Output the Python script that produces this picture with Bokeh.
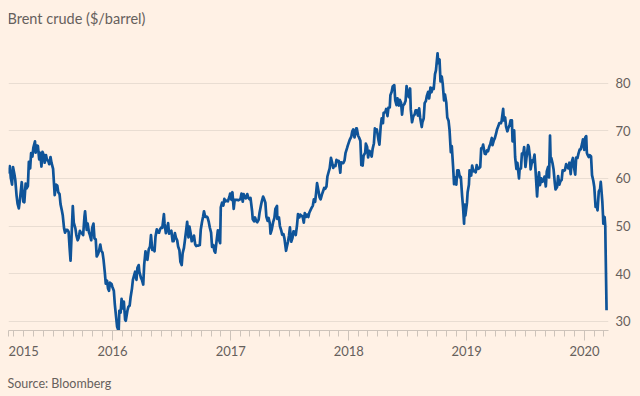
import datetime as dt
import pandas as pd
from bokeh.plotting import figure
from bokeh.models import (Range1d, FixedTicker, DatetimeTickFormatter, DatetimeAxis, Title, Label,
                          ColumnDataSource)
from bokeh.embed import file_html
from bokeh.resources import INLINE

# ---------------- data ----------------
title_text = "Brent crude ($/barrel)"
source_text = "Source: Bloomberg"
year_label_dates = ["2015-04-01", "2016-01-01", "2017-01-01", "2018-01-01", "2019-01-01", "2020-01-01"]
year_ticks = ["2016-01-01", "2017-01-01", "2018-01-01", "2019-01-01", "2020-01-01"]
y_ticks = [30, 40, 50, 60, 70, 80]

brent_2015 = [("02-13", 61.0), ("02-17", 62.6), ("02-20", 60.2), ("02-24", 58.7), ("02-27", 62.4),
              ("03-03", 61.0), ("03-06", 59.7), ("03-10", 56.4), ("03-13", 54.7), ("03-17", 53.7),
              ("03-20", 55.3), ("03-26", 59.2), ("03-31", 55.1), ("04-03", 55.0), ("04-07", 58.9),
              ("04-10", 57.9), ("04-14", 58.4), ("04-17", 63.5), ("04-21", 62.1), ("04-24", 65.3),
              ("04-28", 64.6), ("05-01", 66.5), ("05-06", 67.8), ("05-08", 65.4), ("05-12", 66.9),
              ("05-15", 66.8), ("05-19", 64.0), ("05-22", 65.4), ("05-26", 62.5), ("05-29", 65.6),
              ("06-02", 64.9), ("06-05", 63.3), ("06-09", 64.9), ("06-12", 63.9), ("06-16", 63.7),
              ("06-19", 63.0), ("06-23", 64.5), ("06-26", 63.3), ("07-01", 62.0), ("07-06", 56.5),
              ("07-10", 58.7), ("07-14", 58.5), ("07-17", 57.1), ("07-21", 56.7), ("07-24", 54.6),
              ("07-28", 53.3), ("07-31", 52.2), ("08-04", 49.5), ("08-07", 48.6), ("08-11", 49.2),
              ("08-14", 49.2), ("08-18", 48.8), ("08-21", 45.5), ("08-24", 42.7), ("08-27", 47.6),
              ("08-31", 54.2), ("09-03", 50.7), ("09-08", 49.5), ("09-11", 48.1), ("09-15", 47.0),
              ("09-18", 47.5), ("09-22", 49.0), ("09-25", 48.6), ("09-29", 48.4), ("10-02", 48.1),
              ("10-06", 51.9), ("10-08", 53.1), ("10-13", 49.2), ("10-16", 50.5), ("10-20", 48.7),
              ("10-23", 48.1), ("10-27", 47.0), ("10-30", 49.6), ("11-03", 50.5), ("11-06", 47.4),
              ("11-10", 47.2), ("11-13", 43.6), ("11-17", 44.1), ("11-20", 44.7), ("11-24", 46.1),
              ("11-27", 44.9), ("12-01", 44.4), ("12-04", 43.0), ("12-08", 40.3), ("12-11", 37.9),
              ("12-15", 38.5), ("12-18", 36.9), ("12-21", 36.4), ("12-24", 38.1), ("12-29", 37.8),
              ("12-31", 37.3)]

brent_2016 = [("01-05", 36.4), ("01-08", 33.6), ("01-12", 30.9), ("01-15", 28.9), ("01-20", 27.9),
              ("01-22", 32.2), ("01-26", 31.8), ("01-29", 34.7), ("02-02", 32.7), ("02-05", 34.1),
              ("02-09", 30.3), ("02-11", 30.1), ("02-16", 32.2), ("02-19", 33.0), ("02-23", 33.3),
              ("02-26", 35.1), ("03-01", 36.8), ("03-04", 38.7), ("03-08", 39.7), ("03-11", 40.4),
              ("03-15", 38.7), ("03-18", 41.2), ("03-22", 41.8), ("03-24", 40.4), ("03-29", 39.1),
              ("04-01", 38.7), ("04-05", 37.7), ("04-08", 41.9), ("04-12", 44.7), ("04-15", 43.1),
              ("04-18", 42.9), ("04-22", 45.1), ("04-26", 45.7), ("04-29", 48.1), ("05-03", 45.0),
              ("05-06", 45.4), ("05-10", 44.7), ("05-13", 47.8), ("05-17", 49.3), ("05-20", 48.7),
              ("05-24", 48.6), ("05-27", 49.3), ("05-31", 49.7), ("06-03", 49.6), ("06-08", 52.5),
              ("06-10", 50.5), ("06-14", 48.5), ("06-17", 49.2), ("06-21", 50.6), ("06-24", 48.4),
              ("06-28", 48.6), ("07-01", 49.0), ("07-05", 46.8), ("07-08", 46.8), ("07-12", 48.5),
              ("07-15", 47.6), ("07-19", 47.0), ("07-22", 45.7), ("07-26", 44.9), ("07-29", 42.5),
              ("08-02", 41.8), ("08-05", 44.3), ("08-09", 45.4), ("08-12", 47.0), ("08-16", 49.2),
              ("08-19", 50.9), ("08-23", 47.6), ("08-26", 49.9), ("08-30", 48.4), ("09-02", 46.8),
              ("09-06", 47.3), ("09-09", 48.0), ("09-13", 46.1), ("09-16", 45.8), ("09-20", 45.9),
              ("09-23", 45.9), ("09-27", 46.0), ("09-30", 49.2), ("10-04", 50.9), ("10-07", 51.9),
              ("10-10", 53.1), ("10-14", 51.9), ("10-18", 52.0), ("10-21", 51.8), ("10-25", 50.8),
              ("10-28", 49.7), ("11-01", 48.6), ("11-04", 45.6), ("11-08", 46.0), ("11-11", 44.8),
              ("11-14", 44.4), ("11-18", 46.9), ("11-22", 49.1), ("11-25", 47.2), ("11-29", 46.4),
              ("12-01", 53.9), ("12-05", 54.9), ("12-09", 54.3), ("12-12", 55.7), ("12-16", 55.2),
              ("12-21", 55.4), ("12-23", 55.2), ("12-28", 56.2), ("12-30", 56.8)]

brent_2017 = [("01-03", 55.5), ("01-06", 57.1), ("01-10", 53.6), ("01-13", 55.5), ("01-17", 55.5),
              ("01-20", 55.5), ("01-24", 55.4), ("01-27", 55.5), ("01-31", 55.7), ("02-03", 56.8),
              ("02-07", 55.1), ("02-10", 56.7), ("02-14", 56.0), ("02-17", 55.8), ("02-21", 56.7),
              ("02-24", 56.0), ("02-28", 55.6), ("03-03", 55.9), ("03-08", 53.1), ("03-10", 51.4),
              ("03-14", 51.0), ("03-17", 51.8), ("03-21", 51.0), ("03-24", 50.8), ("03-28", 51.3),
              ("03-31", 52.8), ("04-04", 54.2), ("04-07", 55.2), ("04-11", 56.2), ("04-13", 55.9),
              ("04-18", 54.9), ("04-21", 52.0), ("04-25", 51.1), ("04-28", 51.7), ("05-02", 50.5),
              ("05-04", 48.4), ("05-08", 49.3), ("05-12", 50.8), ("05-16", 51.7), ("05-19", 53.6),
              ("05-24", 54.2), ("05-25", 51.5), ("05-30", 51.8), ("06-02", 50.0), ("06-06", 49.1),
              ("06-09", 48.2), ("06-13", 48.3), ("06-16", 47.4), ("06-21", 44.8), ("06-23", 45.5),
              ("06-27", 46.7), ("06-30", 47.9), ("07-03", 49.7), ("07-07", 46.7), ("07-11", 47.5),
              ("07-14", 48.9), ("07-18", 48.8), ("07-21", 48.1), ("07-25", 50.2), ("07-28", 52.5),
              ("08-01", 51.8), ("08-04", 52.4), ("08-08", 52.1), ("08-11", 52.1), ("08-15", 50.7),
              ("08-18", 52.7), ("08-22", 51.9), ("08-25", 52.4), ("08-29", 51.9), ("09-01", 52.8),
              ("09-05", 53.4), ("09-08", 53.8), ("09-12", 54.3), ("09-15", 55.6), ("09-19", 55.1),
              ("09-22", 56.9), ("09-25", 59.0), ("09-29", 57.5), ("10-03", 56.0), ("10-06", 55.6),
              ("10-10", 56.6), ("10-13", 57.2), ("10-17", 58.0), ("10-20", 57.8), ("10-24", 58.3),
              ("10-27", 60.4), ("10-31", 61.4), ("11-03", 62.1), ("11-07", 64.3), ("11-10", 63.5),
              ("11-14", 62.2), ("11-17", 62.7), ("11-21", 62.6), ("11-24", 63.9), ("11-28", 63.6),
              ("12-01", 63.7), ("12-06", 61.2), ("12-08", 63.4), ("12-12", 63.3), ("12-15", 63.2),
              ("12-19", 63.8), ("12-22", 65.3), ("12-27", 66.4), ("12-29", 66.9)]

brent_2018 = [("01-04", 68.1), ("01-09", 68.8), ("01-12", 69.9), ("01-15", 70.3), ("01-19", 68.6),
              ("01-24", 70.5), ("01-26", 70.5), ("01-30", 69.0), ("02-02", 68.6), ("02-06", 67.9),
              ("02-09", 62.8), ("02-13", 62.7), ("02-16", 64.8), ("02-21", 65.4), ("02-23", 67.3),
              ("02-27", 66.6), ("03-02", 64.4), ("03-06", 65.8), ("03-09", 65.5), ("03-13", 64.6),
              ("03-16", 66.2), ("03-20", 67.4), ("03-23", 70.5), ("03-27", 70.1), ("03-29", 70.3),
              ("04-03", 68.1), ("04-06", 67.1), ("04-10", 71.0), ("04-13", 72.6), ("04-17", 71.6),
              ("04-19", 73.8), ("04-24", 73.9), ("04-27", 74.6), ("05-01", 73.1), ("05-04", 74.9),
              ("05-08", 74.9), ("05-10", 77.5), ("05-14", 78.2), ("05-17", 79.3), ("05-22", 79.6),
              ("05-25", 76.4), ("05-29", 75.4), ("06-01", 76.8), ("06-05", 75.3), ("06-08", 76.5),
              ("06-12", 75.9), ("06-15", 73.4), ("06-18", 75.3), ("06-22", 75.6), ("06-26", 76.3),
              ("06-29", 79.4), ("07-03", 77.8), ("07-06", 77.1), ("07-10", 78.9), ("07-12", 74.5),
              ("07-16", 71.8), ("07-20", 73.1), ("07-24", 73.4), ("07-27", 74.3), ("07-31", 74.3),
              ("08-03", 73.2), ("08-07", 74.7), ("08-10", 72.8), ("08-15", 70.8), ("08-17", 71.8),
              ("08-21", 72.6), ("08-24", 75.8), ("08-28", 76.3), ("08-31", 77.4), ("09-04", 78.2),
              ("09-07", 76.8), ("09-11", 79.1), ("09-14", 78.1), ("09-18", 79.0), ("09-21", 78.8),
              ("09-25", 81.9), ("09-28", 82.7), ("10-03", 86.3), ("10-05", 84.2), ("10-09", 85.0),
              ("10-12", 80.4), ("10-16", 81.4), ("10-19", 79.8), ("10-23", 76.4), ("10-26", 77.6),
              ("10-30", 75.9), ("11-02", 72.8), ("11-06", 72.1), ("11-09", 70.2), ("11-13", 65.5),
              ("11-16", 66.8), ("11-20", 62.5), ("11-23", 58.8), ("11-27", 60.2), ("11-30", 58.7),
              ("12-03", 61.7), ("12-07", 61.7), ("12-11", 60.2), ("12-14", 60.3), ("12-18", 56.3),
              ("12-21", 53.8), ("12-24", 50.5), ("12-26", 54.5), ("12-28", 52.2)]

brent_2019 = [("01-02", 54.9), ("01-04", 57.1), ("01-08", 58.7), ("01-10", 61.7), ("01-15", 60.6),
              ("01-18", 62.7), ("01-22", 61.5), ("01-25", 61.6), ("01-29", 61.3), ("02-01", 62.8),
              ("02-05", 62.0), ("02-08", 62.1), ("02-12", 62.4), ("02-15", 66.3), ("02-19", 66.5),
              ("02-21", 67.1), ("02-26", 65.2), ("03-01", 65.1), ("03-05", 65.9), ("03-08", 65.7),
              ("03-12", 66.7), ("03-15", 67.2), ("03-20", 68.5), ("03-22", 67.0), ("03-26", 68.0),
              ("03-29", 68.4), ("04-02", 69.4), ("04-05", 70.3), ("04-09", 71.0), ("04-12", 71.6),
              ("04-17", 71.6), ("04-19", 72.0), ("04-24", 74.6), ("04-26", 72.2), ("04-30", 72.8),
              ("05-03", 70.9), ("05-07", 69.9), ("05-10", 70.6), ("05-14", 71.2), ("05-17", 72.2),
              ("05-21", 72.2), ("05-23", 67.8), ("05-28", 70.1), ("05-31", 64.5), ("06-04", 62.0),
              ("06-07", 63.3), ("06-12", 60.0), ("06-14", 62.0), ("06-18", 62.1), ("06-21", 65.2),
              ("06-25", 65.1), ("06-28", 66.6), ("07-02", 62.4), ("07-05", 64.2), ("07-10", 67.0),
              ("07-12", 66.7), ("07-16", 64.4), ("07-18", 61.9), ("07-23", 63.8), ("07-26", 63.5),
              ("07-30", 65.0), ("08-02", 61.9), ("08-07", 56.2), ("08-09", 58.5), ("08-13", 61.3),
              ("08-16", 58.6), ("08-20", 60.0), ("08-23", 59.3), ("08-27", 59.5), ("08-30", 60.4),
              ("09-03", 58.3), ("09-06", 61.5), ("09-10", 62.4), ("09-13", 60.2), ("09-16", 69.0),
              ("09-18", 63.6), ("09-20", 64.3), ("09-24", 63.1), ("09-27", 61.9), ("10-01", 58.9),
              ("10-03", 57.7), ("10-08", 58.2), ("10-11", 60.5), ("10-15", 58.7), ("10-18", 59.4),
              ("10-22", 59.7), ("10-25", 61.7), ("10-29", 61.6), ("11-01", 61.7), ("11-05", 63.0),
              ("11-08", 62.5), ("11-12", 62.1), ("11-15", 63.3), ("11-19", 60.9), ("11-22", 63.4),
              ("11-26", 64.3), ("11-29", 62.4), ("12-03", 60.8), ("12-06", 64.4), ("12-10", 64.3),
              ("12-13", 65.2), ("12-17", 66.1), ("12-20", 66.1), ("12-24", 67.2), ("12-27", 68.2),
              ("12-31", 66.0)]

brent_2020 = [("01-03", 68.6), ("01-06", 68.9), ("01-08", 65.4), ("01-10", 65.0), ("01-14", 64.5),
              ("01-17", 64.9), ("01-21", 64.6), ("01-24", 60.7), ("01-28", 59.5), ("01-31", 58.2),
              ("02-04", 54.0), ("02-07", 54.5), ("02-10", 53.3), ("02-14", 57.3), ("02-18", 57.8),
              ("02-20", 59.3), ("02-21", 58.5), ("02-25", 55.0), ("02-27", 52.2), ("02-28", 50.5),
              ("03-03", 51.9), ("03-05", 50.0), ("03-06", 45.3), ("03-09", 32.3)]

# ---------------- build table ----------------
rows = []
for year, pts in [(2015, brent_2015), (2016, brent_2016), (2017, brent_2017),
                  (2018, brent_2018), (2019, brent_2019), (2020, brent_2020)]:
    for md, v in pts:
        rows.append((pd.Timestamp(f"{year}-{md}"), v))
df = pd.DataFrame(rows, columns=["date", "price"])
source = ColumnDataSource(df)

def ms(s):
    return pd.Timestamp(s).timestamp() * 1000.0

BG = "#FFF1E5"
TEXT = "#66605C"
LINE = "#0F5499"
GRID = "#E9DDD2"
AXIS = "#CDC3BA"
FONT = "Lato"

x_start = dt.datetime(2015, 2, 13)
x_end = dt.datetime(2020, 3, 15)
# frame spans the canvas from the top (y=0) down to the axis line (y=330)
y_lo, y_hi = 28.05, 97.38

p = figure(width=640, height=396, x_axis_type="datetime", y_axis_location="right",
           x_range=Range1d(x_start, x_end), y_range=Range1d(y_lo, y_hi),
           output_backend="svg", toolbar_location=None,
           min_border_left=8, min_border_right=32, min_border_top=0, min_border_bottom=66,
           background_fill_color=BG, border_fill_color=BG, outline_line_color=None)

p.line(x="date", y="price", source=source, line_width=2.7, line_color=LINE, line_join="round")

# title (inside the frame's empty top band)
p.add_layout(Label(x=ms(x_start), y=y_hi, x_offset=-1, y_offset=-17.5, text=title_text,
                   text_font=FONT, text_font_size="14.5px", text_color=TEXT,
                   text_align="left", text_baseline="alphabetic"))

fmt = dict(years="%Y", months="%Y", days="%Y", hours="%Y", hourmin="%Y", minutes="%Y",
           minsec="%Y", seconds="%Y", milliseconds="%Y", microseconds="%Y")

# x axis: line + ticks only
xa = p.below[0]
minor = [ms(x_start)] + [d.timestamp() * 1000.0 for d in pd.date_range("2015-03-01", "2020-03-01", freq="MS")]
xa.ticker = FixedTicker(ticks=[ms(t) for t in year_ticks], minor_ticks=minor)
xa.formatter = DatetimeTickFormatter(**fmt)
xa.axis_line_color = AXIS
xa.major_tick_line_color = AXIS
xa.minor_tick_line_color = AXIS
xa.major_tick_in = 0
xa.major_tick_out = 10
xa.minor_tick_in = 0
xa.minor_tick_out = 6
xa.major_label_standoff = 0
xa.major_label_text_font_size = "0px"
xa.major_label_text_alpha = 0
p.xgrid.grid_line_color = None

# x axis: year labels only
xl = DatetimeAxis(ticker=FixedTicker(ticks=[ms(t) for t in year_label_dates]),
                  formatter=DatetimeTickFormatter(**fmt),
                  axis_line_color=None, major_tick_line_color=None, minor_tick_line_color=None,
                  major_tick_in=0, major_tick_out=0, minor_tick_in=0, minor_tick_out=0,
                  major_label_standoff=5, major_label_text_font=FONT,
                  major_label_text_font_size="13px", major_label_text_color=TEXT)
p.add_layout(xl, "below")

# invisible spacer axis so the source line sits at the very bottom
spacer = DatetimeAxis(ticker=FixedTicker(ticks=[ms(year_ticks[1])]),
                      formatter=DatetimeTickFormatter(**fmt),
                      axis_line_color=None, major_tick_line_color=None, minor_tick_line_color=None,
                      major_tick_in=0, major_tick_out=10, minor_tick_in=0, minor_tick_out=0,
                      major_label_standoff=0, major_label_text_font_size="0px",
                      major_label_text_alpha=0)
p.add_layout(spacer, "below")

# source line
p.add_layout(Title(text=source_text, align="left", offset=-1, standoff=10,
                   text_font=FONT, text_font_size="12.5px", text_font_style="normal",
                   text_color=TEXT), "below")

# y axis (right)
p.yaxis.ticker = FixedTicker(ticks=y_ticks)
p.yaxis.axis_line_color = None
p.yaxis.major_tick_line_color = None
p.yaxis.minor_tick_line_color = None
p.yaxis.major_tick_out = 0
p.yaxis.major_tick_in = 0
p.yaxis.major_label_standoff = 7
p.yaxis.major_label_text_font = FONT
p.yaxis.major_label_text_font_size = "13px"
p.yaxis.major_label_text_color = TEXT
p.ygrid.grid_line_color = GRID
p.ygrid.grid_line_width = 1

html = None
try:
    from jinja2 import Template
    tmpl = Template('{% extends base %}{% block preamble %}<style>html, body { background: #FFF1E5; }</style>{% endblock %}')
    html = file_html(p, INLINE, template=tmpl)
except Exception:
    html = file_html(p, INLINE)
open("out.html", "w").write(html)
